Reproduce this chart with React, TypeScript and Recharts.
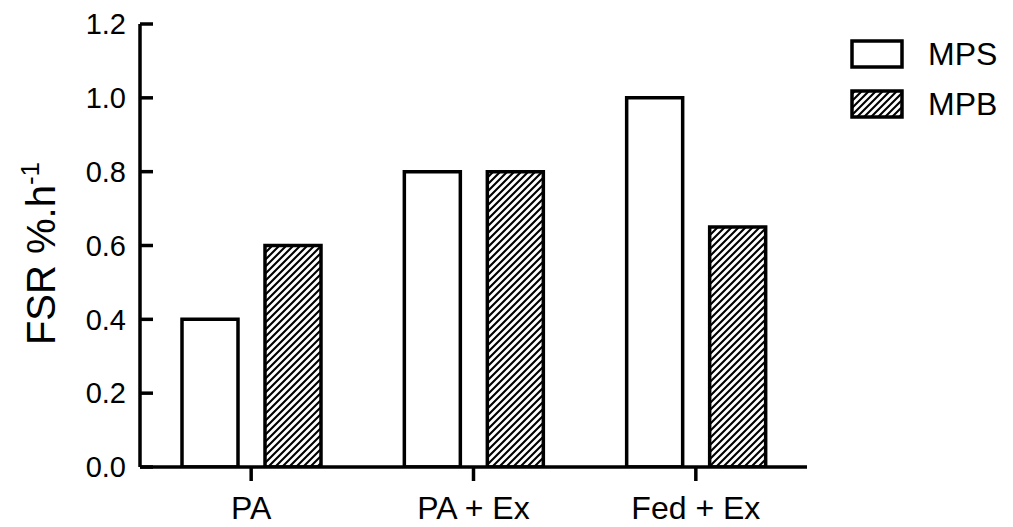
import React from 'react';
import { BarChart, Bar, XAxis, YAxis, Legend } from 'recharts';

const categories = ['PA', 'PA + Ex', 'Fed + Ex'];
const mpsValues = [0.4, 0.8, 1.0];
const mpbValues = [0.6, 0.8, 0.65];
const yTicks = [0, 0.2, 0.4, 0.6, 0.8, 1.0, 1.2];
const seriesOrder = ['MPS', 'MPB'];

const data = categories.map((c, i) => ({ name: c, MPS: mpsValues[i], MPB: mpbValues[i] }));

const FONT = '"Liberation Sans", Arial, Helvetica, sans-serif';

const HatchDefs = ({ id }: { id: string }) => (
  <defs>
    <pattern id={id} patternUnits="userSpaceOnUse" width={7} height={7}>
      <rect x={0} y={0} width={7} height={7} fill="#fff" />
      <path d="M-1,1 l2,-2 M0,7 l7,-7 M6,8 l2,-2" stroke="#000" strokeWidth={2.1} />
    </pattern>
  </defs>
);

const YTick = (props: any) => {
  const { x, y, payload } = props;
  return (
    <g>
      <line x1={x + 14} x2={x + 27} y1={y} y2={y} stroke="#000" strokeWidth={3.5} />
      <text x={x} y={y} dy="0.355em" textAnchor="end" fontSize={29} fontFamily={FONT} fill="#000">
        {Number(payload.value).toFixed(1)}
      </text>
    </g>
  );
};

const YLabel = (props: any) => {
  const vb = props.viewBox || { x: 0, y: 24, width: 140, height: 443 };
  const cx = 55;
  const cy = vb.y + vb.height / 2 + 8;
  return (
    <text
      x={cx}
      y={cy}
      transform={`rotate(-90 ${cx} ${cy})`}
      textAnchor="middle"
      fontSize={40}
      fontFamily={FONT}
      fill="#000"
    >
      FSR %.h
      <tspan fontSize={26} dy={-16}>-1</tspan>
    </text>
  );
};

const LegendContent = (props: any) => {
  const payload = [...(props.payload || [])].sort(
    (a: any, b: any) => seriesOrder.indexOf(a.value) - seriesOrder.indexOf(b.value)
  );
  return (
    <div style={{ position: 'relative', width: 161, height: 100 }}>
      {payload.map((p: any, i: number) => (
        <div key={p.value} style={{ position: 'absolute', left: 0, top: i * 50, height: 30, display: 'flex', alignItems: 'center' }}>
          <svg width={54} height={30} style={{ display: 'block' }}>
            <HatchDefs id={`legendHatch${i}`} />
            <rect
              x={2}
              y={2}
              width={50}
              height={26}
              fill={p.value === 'MPB' ? `url(#legendHatch${i})` : '#fff'}
              stroke="#000"
              strokeWidth={3.5}
            />
          </svg>
          <span style={{ marginLeft: 24, fontSize: 32, fontFamily: FONT, color: '#000', lineHeight: '30px' }}>{p.value}</span>
        </div>
      ))}
    </div>
  );
};

export default function App() {
  return (
    <div style={{ position: 'absolute', left: 0, top: 0, width: 1013, height: 527, background: '#fff' }}>
      <BarChart
        width={1013}
        height={527}
        data={data}
        margin={{ top: 24, right: 206, bottom: 0, left: 0 }}
        barSize={56}
        barGap={27}
      >
        <HatchDefs id="barHatch" />
        <XAxis
          dataKey="name"
          height={60}
          axisLine={{ stroke: '#000', strokeWidth: 3.5 }}
          tickLine={{ stroke: '#000', strokeWidth: 3.5 }}
          tickSize={14}
          tickMargin={15}
          tick={{ fill: '#000', fontSize: 32, fontFamily: FONT }}
          interval={0}
        />
        <YAxis
          width={140}
          domain={[0, 1.2]}
          ticks={yTicks}
          allowDataOverflow
          axisLine={{ stroke: '#000', strokeWidth: 3.5 }}
          tickLine={false}
          tickSize={0}
          tickMargin={14}
          tick={<YTick />}
          interval={0}
          label={<YLabel />}
        />
        <Legend
          layout="horizontal"
          verticalAlign="middle"
          align="center"
          content={<LegendContent />}
          wrapperStyle={{ left: 850, top: 39, width: 161, height: 100 }}
        />
        <Bar dataKey="MPS" fill="#fff" stroke="#000" strokeWidth={3.5} isAnimationActive={false} />
        <Bar dataKey="MPB" fill="url(#barHatch)" stroke="#000" strokeWidth={3.5} isAnimationActive={false} />
      </BarChart>
    </div>
  );
}
